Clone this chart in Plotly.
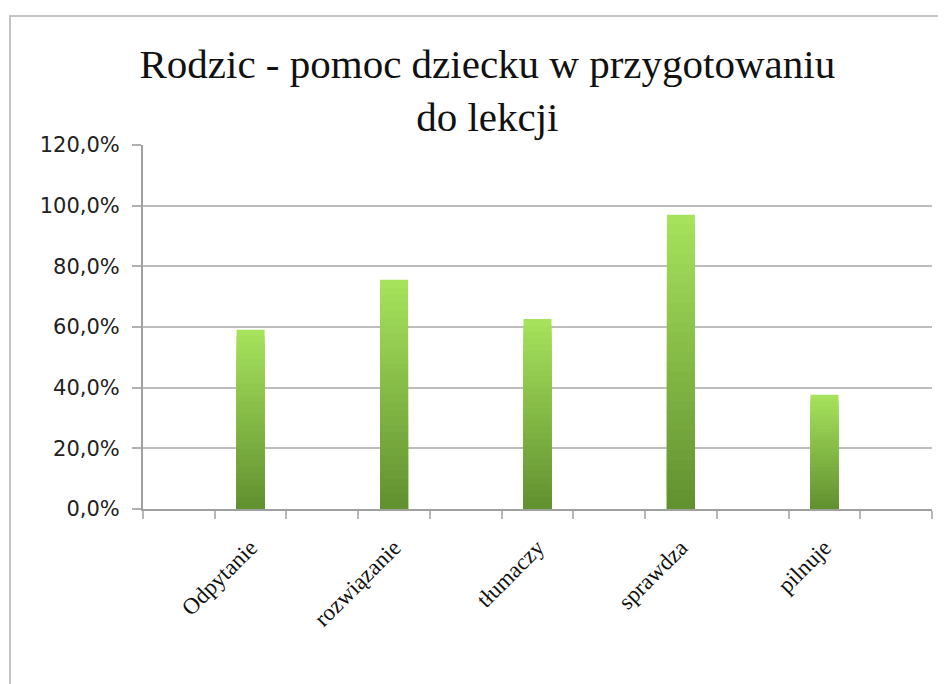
import plotly.graph_objects as go

# ---- data ----
categories = ["Odpytanie", "rozwiązanie", "tłumaczy", "sprawdza", "pilnuje"]
values = [0.591, 0.756, 0.626, 0.970, 0.377]
y_ticks = [0.0, 0.2, 0.4, 0.6, 0.8, 1.0, 1.2]
title_text = "Rodzic - pomoc dziecku w przygotowaniu<br>do lekcji"

# every other slot holds a bar (empty slots between, as in the source sheet)
n_slots = 2 * len(categories) + 1
positions = [2 * i + 1 for i in range(len(categories))]

top_rgb = (166, 226, 92)
bot_rgb = (98, 145, 48)
N = 30

fig = go.Figure()
for k in range(N):
    frac = 1 - k / N
    t = k / (N - 1)
    c = tuple(round(top_rgb[j] + (bot_rgb[j] - top_rgb[j]) * t) for j in range(3))
    fig.add_trace(go.Bar(
        x=positions,
        y=[v * frac for v in values],
        width=0.39,
        marker=dict(color="rgb(%d,%d,%d)" % c, line=dict(width=0)),
        showlegend=False,
        hoverinfo="skip" if k else None,
    ))

W, H = 938, 676
fig.update_layout(
    width=W, height=H,
    barmode="overlay",
    separators=", ",
    paper_bgcolor="white",
    plot_bgcolor="white",
    margin=dict(l=135, r=14, t=137, b=175),
    title=dict(
        text=title_text,
        x=0.511, xanchor="center", xref="container",
        y=0.897, yanchor="top", yref="container",
        font=dict(family="Liberation Serif", size=41, color="#111111"),
    ),
    xaxis=dict(
        range=[-0.5, n_slots - 0.5],
        tickvals=positions,
        ticktext=categories,
        tickangle=-45,
        ticks="",
        showgrid=False,
        zeroline=False,
        showline=True, linecolor="#a0a0a0", linewidth=2,
        tickfont=dict(family="Liberation Serif", size=23, color="#111111"),
        ticklabelstandoff=14,
        minor=dict(
            tickvals=[i - 0.5 for i in range(n_slots + 1)],
            ticks="outside", ticklen=8, tickcolor="#b8b8b8", tickwidth=2,
            showgrid=False,
        ),
        fixedrange=True,
    ),
    yaxis=dict(
        range=[0, 1.2],
        tickvals=y_ticks,
        tickformat=".1%",
        ticks="outside", ticklen=9, tickcolor="#b0b0b0", tickwidth=2,
        showgrid=True, gridcolor="#bdbdbd", gridwidth=2,
        zeroline=False,
        showline=True, linecolor="#a0a0a0", linewidth=2,
        tickfont=dict(family="DejaVu Sans", size=21, color="#222222"),
        ticklabelstandoff=8,
    ),
    shapes=[dict(
        type="rect", xref="paper", yref="paper",
        xsizemode="pixel", ysizemode="pixel",
        xanchor=0, yanchor=1,
        x0=-133, x1=900, y0=-700, y1=129,
        line=dict(color="#c4c4c4", width=2),
        fillcolor="rgba(0,0,0,0)",
        layer="below",
    )],
)

fig.write_html("out.html")
